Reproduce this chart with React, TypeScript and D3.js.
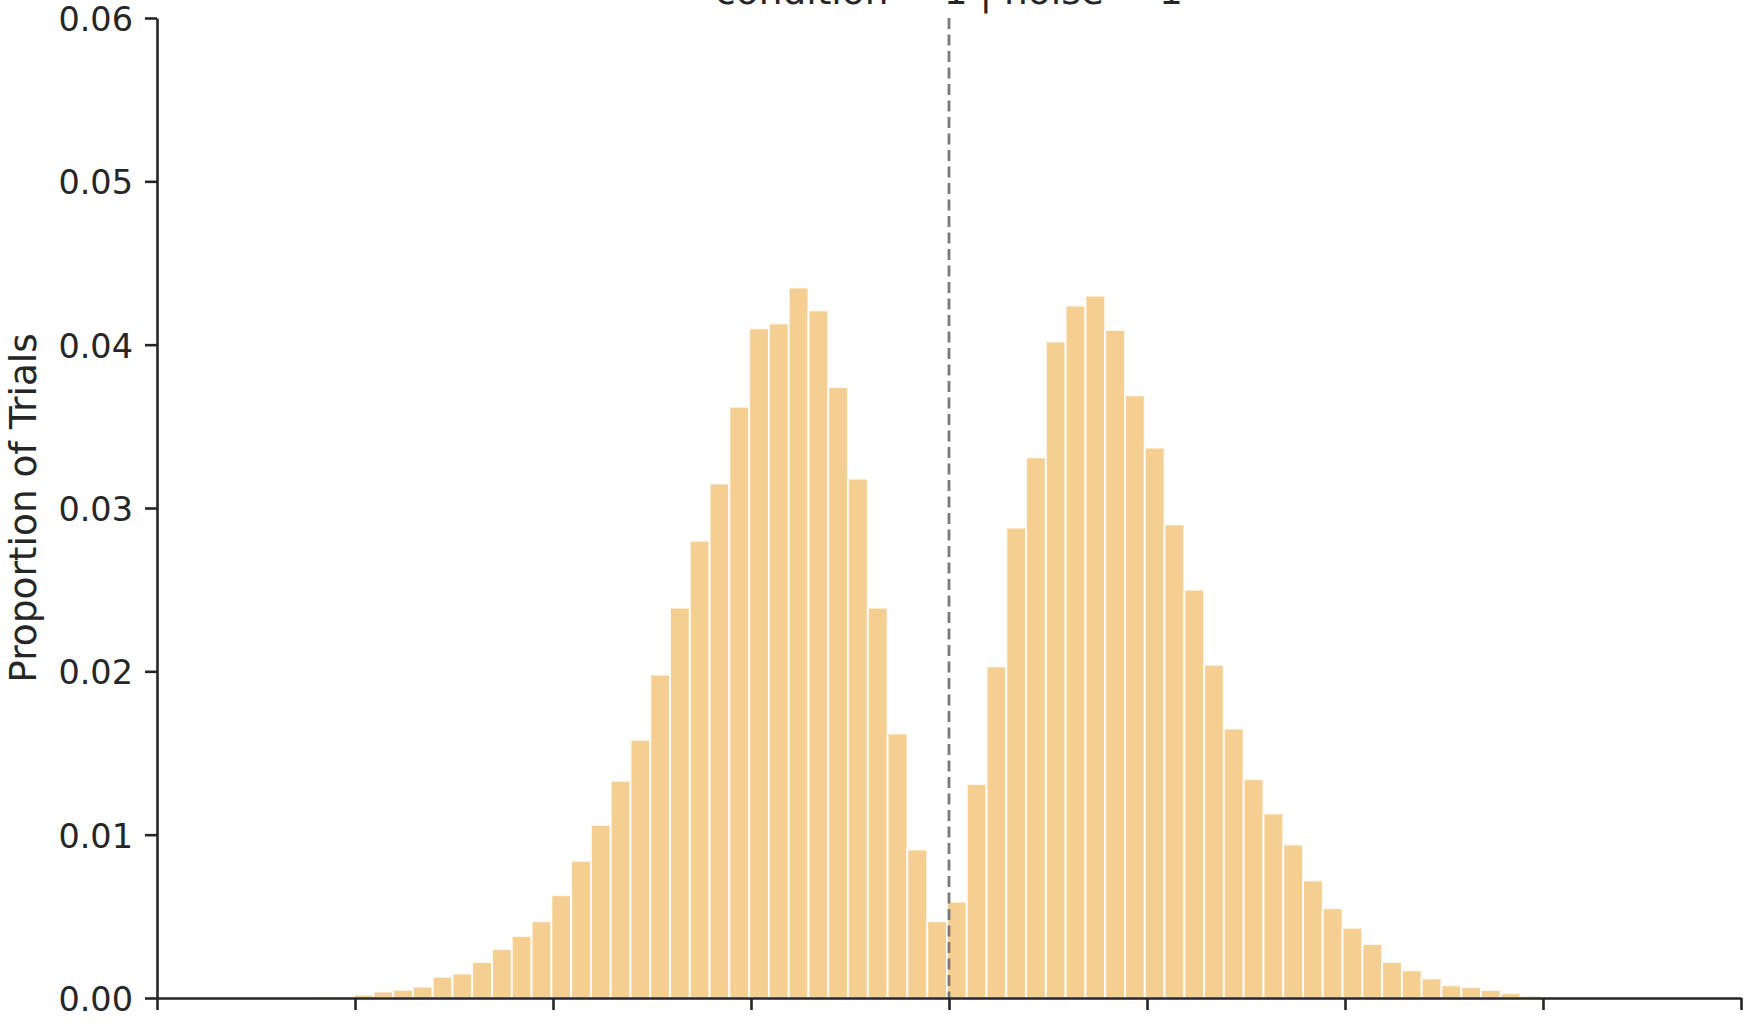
import * as d3 from 'd3';
import React, { useEffect, useRef } from 'react';

const width = 1746;
const height = 1026;
const margin = { top: 18, right: 5, bottom: 28, left: 157 };

// histogram bins (left edge of the first bin and bin width, in decision-variable units)
const binStart = -3.207;
const binWidth = 0.0999;

// proportion of trials per bin
const leftProportions = [
    0.0001, 0.00008, 0.0002, 0.0004, 0.0005, 0.0007, 0.0013, 0.0015, 0.0022, 0.003,
    0.0038, 0.0047, 0.0063, 0.0084, 0.0106, 0.0133, 0.0158, 0.0198, 0.0239, 0.028,
    0.0315, 0.0362, 0.041, 0.0413, 0.0435, 0.0421, 0.0374, 0.0318, 0.0239, 0.0162,
    0.0091, 0.0047
];
const rightProportions = [
    0.0059, 0.0131, 0.0203, 0.0288, 0.0331, 0.0402, 0.0424, 0.043, 0.0409, 0.0369,
    0.0337, 0.029, 0.025, 0.0204, 0.0165, 0.0134, 0.0113, 0.0094, 0.0072, 0.0055,
    0.0043, 0.0033, 0.0022, 0.0017, 0.0012, 0.00078, 0.00067, 0.00049, 0.0003, 0.00014
];
const proportions = [...leftProportions, ...rightProportions];

const xTicks = [-4, -3, -2, -1, 0, 1, 2, 3, 4];
const yTicks = [0, 0.01, 0.02, 0.03, 0.04, 0.05, 0.06];
const criterion = 0;
const titleText = 'condition = 1 | noise = 1';
const yLabelText = 'Proportion of Trials';

const fontFamily = '"DejaVu Sans", sans-serif';
const ink = '#262626';

const App = () => {
    const svgRef = useRef<SVGSVGElement>(null);

    useEffect(() => {
        const svg = d3.select(svgRef.current);
        svg.selectAll('*').remove();

        const x = d3.scaleLinear()
            .domain([xTicks[0], xTicks[xTicks.length - 1]])
            .range([margin.left, width - margin.right]);

        const y = d3.scaleLinear()
            .domain([yTicks[0], yTicks[yTicks.length - 1]])
            .range([height - margin.bottom, margin.top]);

        const barW = x(binStart + binWidth) - x(binStart);

        svg.append('g')
            .selectAll('rect')
            .data(proportions)
            .join('rect')
            .attr('x', (d, i) => x(binStart + i * binWidth))
            .attr('y', d => y(d))
            .attr('width', barW)
            .attr('height', d => y(0) - y(d))
            .attr('fill', '#f5cf92')
            .attr('stroke', '#ffffff')
            .attr('stroke-opacity', 0.85)
            .attr('stroke-width', 2);

        // criterion line
        svg.append('line')
            .attr('x1', x(criterion))
            .attr('x2', x(criterion))
            .attr('y1', y(yTicks[yTicks.length - 1]))
            .attr('y2', y(0))
            .attr('stroke', '#7a7a7a')
            .attr('stroke-width', 2.8)
            .attr('stroke-dasharray', '11 5.5');

        const yAxis = svg.append('g')
            .attr('transform', 'translate(' + margin.left + ', 0)')
            .call(d3.axisLeft(y)
                .tickValues(yTicks)
                .tickFormat(d3.format('.2f'))
                .tickSize(12)
                .tickSizeOuter(0)
                .tickPadding(12));

        const xAxis = svg.append('g')
            .attr('transform', 'translate(0, ' + (height - margin.bottom) + ')')
            .call(d3.axisBottom(x)
                .tickValues(xTicks)
                .tickFormat(() => '')
                .tickSize(12)
                .tickSizeOuter(0));

        [yAxis, xAxis].forEach(axis => {
            axis.select('.domain').attr('stroke', ink).attr('stroke-width', 2.6);
            axis.selectAll('.tick line').attr('stroke', ink).attr('stroke-width', 2.6);
            axis.selectAll('.tick text')
                .attr('fill', ink)
                .attr('dy', '0.37em')
                .style('font-family', fontFamily)
                .style('font-size', '33.5px');
        });

        svg.append('text')
            .attr('x', (margin.left + width - margin.right) / 2)
            .attr('y', 4)
            .attr('text-anchor', 'middle')
            .attr('fill', ink)
            .style('font-family', fontFamily)
            .style('font-size', '37.5px')
            .text(titleText);

        svg.append('text')
            .attr('transform', 'translate(36, ' + (margin.top + height - margin.bottom) / 2 + ') rotate(-90)')
            .attr('text-anchor', 'middle')
            .attr('fill', ink)
            .style('font-family', fontFamily)
            .style('font-size', '37.5px')
            .text(yLabelText);
    }, []);

    return (
        <svg
            ref={svgRef}
            width={width}
            height={height}
            style={{ position: 'absolute', top: 0, left: 0, background: '#ffffff' }}
        />
    );
};

export default App;
